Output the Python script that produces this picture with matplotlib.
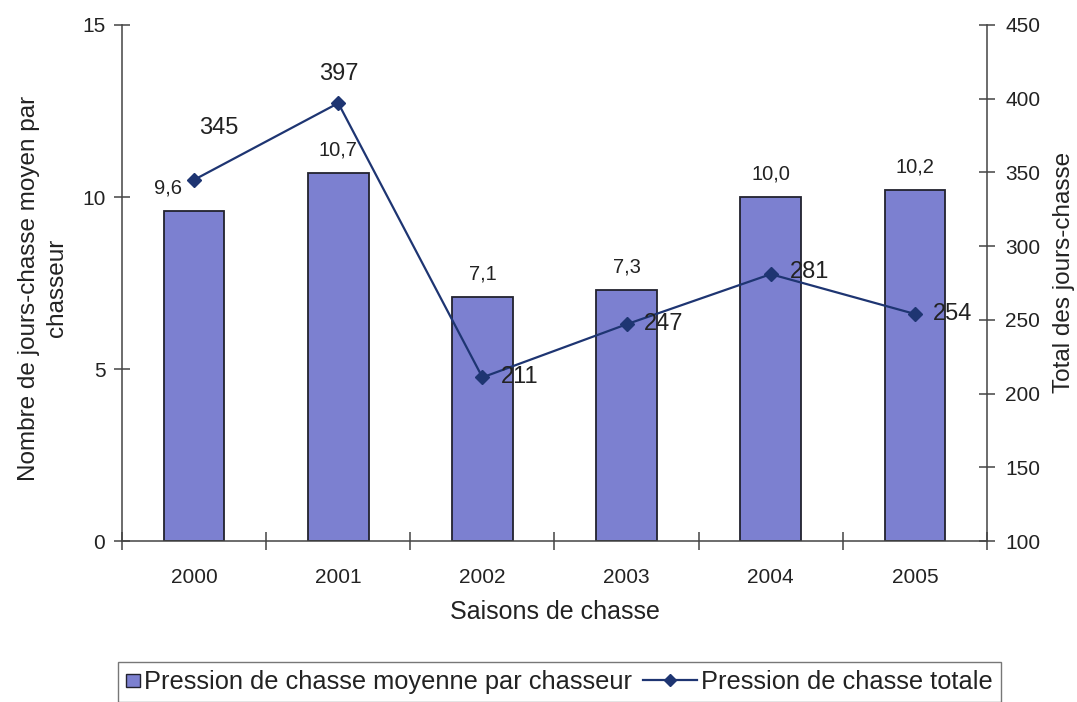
import matplotlib
matplotlib.use("Agg")
import matplotlib.pyplot as plt
from matplotlib.lines import Line2D
from matplotlib.patches import Patch, Rectangle
from matplotlib.legend_handler import HandlerLine2D, HandlerPatch

plt.rcParams['font.family'] = ['Liberation Sans', 'DejaVu Sans']

seasons = ["2000", "2001", "2002", "2003", "2004", "2005"]
mean_pressure = [9.6, 10.7, 7.1, 7.3, 10.0, 10.2]
total_pressure = [345, 397, 211, 247, 281, 254]

bar_color = "#7C80D0"
line_color = "#1E3572"
text_color = "#222222"
axis_color = "#444444"


def fr(v):
    return f"{v:.1f}".replace(".", ",")


fig = plt.figure(figsize=(10.77, 7.02), dpi=100)
ax = fig.add_axes([0.1133, 0.2293, 0.8031, 0.7351])
ax2 = ax.twinx()

x = list(range(len(seasons)))
ax.bar(x, mean_pressure, width=0.42, color=bar_color, edgecolor="#22222e",
       linewidth=1.3, zorder=2)
ax.set_xlim(-0.5, len(seasons) - 0.5)
ax.set_ylim(0, 15)
ax.set_yticks([0, 5, 10, 15])

ax2.plot(x, total_pressure, color=line_color, linewidth=1.6, marker="D", markersize=7.5,
         markerfacecolor=line_color, markeredgecolor=line_color, zorder=3)
ax2.set_ylim(100, 450)
ax2.set_yticks(range(100, 451, 50))

# value labels above the bars (pixel offsets)
bar_dx = [-26, 0, 0, 0, 0, 0]
for xi, v, dx in zip(x, mean_pressure, bar_dx):
    ax.annotate(fr(v), (xi, v), xytext=(dx, 23), textcoords="offset pixels",
                ha="center", va="center", fontsize=14.5, color=text_color)

# value labels of the total line (pixel offsets)
line_off = [(25, 52, "center"), (1, 29, "center"), (18, 0, "left"),
            (17, 0, "left"), (19, 2, "left"), (18, 0, "left")]
for xi, v, (dx, dy, ha) in zip(x, total_pressure, line_off):
    ax2.annotate(str(v), (xi, v), xytext=(dx, dy), textcoords="offset pixels",
                 ha=ha, va="center", fontsize=17, color=text_color, zorder=4)

# spines
for a in (ax, ax2):
    a.spines["top"].set_visible(False)
    for s in ("left", "right", "bottom"):
        a.spines[s].set_color(axis_color)
        a.spines[s].set_linewidth(1.1)
ax.spines["right"].set_visible(False)
ax2.spines["left"].set_visible(False)
ax2.spines["bottom"].set_visible(False)

# category separators as major ticks, season names as minor tick labels
ax.set_xticks([i - 0.5 for i in range(len(seasons) + 1)])
ax.set_xticklabels([])
ax.tick_params(axis="x", which="major", direction="inout", length=13, color=axis_color, width=1.1)
ax.set_xticks(x, minor=True)
ax.set_xticklabels(seasons, minor=True, fontsize=15, color=text_color)
ax.tick_params(axis="x", which="minor", length=0, pad=19.5)

ax.tick_params(axis="y", direction="inout", length=12, labelsize=15, color=axis_color,
               labelcolor=text_color, pad=6, width=1.1)
ax2.tick_params(axis="y", direction="inout", length=12, labelsize=15, color=axis_color,
                labelcolor=text_color, pad=7, width=1.1)

ax.set_xlabel("Saisons de chasse", fontsize=18, color=text_color)
ax.xaxis.label.set_va("center")
ax.xaxis.set_label_coords(0.5, -0.1376)

ax.set_ylabel("Nombre de jours-chasse moyen par\nchasseur", fontsize=17.5, color=text_color,
              linespacing=1.35)
ax.yaxis.label.set_va("center")
ax.yaxis.set_label_coords(-0.091, 0.49)

ax2.set_ylabel("Total des jours-chasse", fontsize=17.5, color=text_color)
ax2.yaxis.label.set_va("center")
ax2.yaxis.set_label_coords(1.0895, 0.521)


# legend handles: small square for the bars, long line with a diamond for the total
class SquareHandler(HandlerPatch):
    def create_artists(self, legend, orig_handle, xdescent, ydescent, width, height,
                       fontsize, trans):
        side = 9.5
        y0 = -ydescent + (height - side) / 2
        p = Rectangle((-xdescent, y0), width, side, facecolor=orig_handle.get_facecolor(),
                      edgecolor=orig_handle.get_edgecolor(), linewidth=1.0, transform=trans)
        return [p]


class LongLineHandler(HandlerLine2D):
    def create_artists(self, legend, orig_handle, xdescent, ydescent, width, height,
                       fontsize, trans):
        y = (height - ydescent) / 2
        x1 = -xdescent + width
        x0 = x1 - 39
        ln = Line2D([x0, x1], [y, y], color=orig_handle.get_color(),
                    linewidth=orig_handle.get_linewidth(), transform=trans)
        mk = Line2D([(x0 + x1) / 2], [y], marker="D", markersize=orig_handle.get_markersize(),
                    color=orig_handle.get_color(), linestyle="none", transform=trans)
        return [ln, mk]


bar_handle = Patch(facecolor=bar_color, edgecolor="#22222e")
line_handle = Line2D([0], [0], color=line_color, marker="D", markersize=6.5, linewidth=1.6)
leg = fig.legend([bar_handle, line_handle],
                 ["Pression de chasse moyenne par chasseur", "Pression de chasse totale"],
                 handler_map={Patch: SquareHandler(), Line2D: LongLineHandler()},
                 loc="upper left", bbox_to_anchor=(118 / 1077, 1 - 662 / 702), ncol=2,
                 fontsize=18.3, frameon=True, fancybox=False, edgecolor="#555555",
                 borderpad=0.32, handlelength=0.55, handletextpad=0.16,
                 columnspacing=2.0, borderaxespad=0.0, labelcolor=text_color)
leg.get_frame().set_linewidth(1.0)

fig.savefig("out.png", dpi=100, facecolor="white")
